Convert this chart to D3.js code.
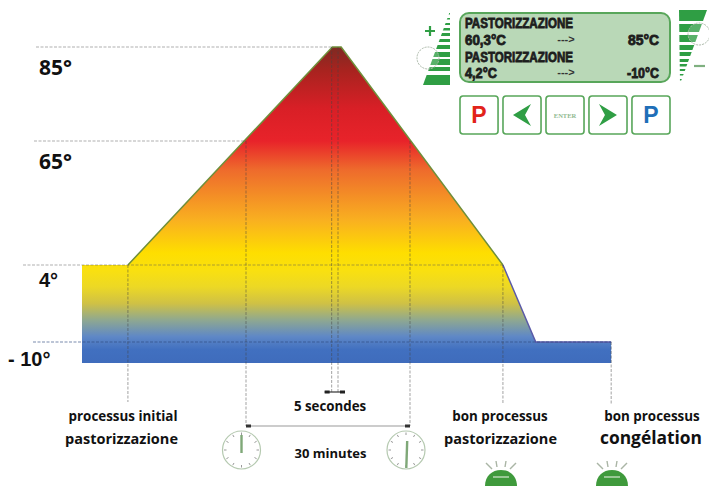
<!DOCTYPE html>
<html>
<head>
<meta charset="utf-8">
<script src="https://cdn.jsdelivr.net/npm/d3@7/dist/d3.min.js"></script>
<style>
  html, body { margin: 0; padding: 0; background: #fff; }
  svg { display: block; }
</style>
</head>
<body>
<div id="chart"></div>
<script>
// temperature profile, minutes counted from the start of the 30 minute hold
const profileTime = [-30, -21.6, 15.8, 17.4, 47, 53, 66.8];
const profileTemp = [4, 4, 85, 85, 4, -10, -10];
const bottomTemp = -15.5;

const tempTicks = [85, 65, 4, -10];
const tempLabels = ["85°", "65°", "4°", "- 10°"];

// dashed guides: temperature, time where they stop
const guideTemp = [85, 65, 4, -10];
const guideEnd = [15.8, 0, 47, 66.8];
const dropTime = [-21.6, 0, 15.67, 16.83, 30, 47, 66.8];
const dropTemp = [4, 65, 85, 85, 65, 4, -10];

const gradTemp = [85, 80, 72, 65, 51, 26, 10, 3, 0, -3, -6, -9, -12, -15.5];
const gradColor = ["#7e2a22", "#a8231f", "#d81f26", "#e8232a", "#ee6a2c", "#f9b020", "#fede00", "#f9e010", "#ecd825", "#cfc145", "#8fa890", "#5f88c6", "#4170c0", "#3f6cbc"];

const lcdLines = ["PASTORIZZAZIONE", "60,3°C", "PASTORIZZAZIONE", "4,2°C"];
const lcdWidths = [108, 41, 108, 32];
const lcdTargets = ["", "85°C", "", "-10°C"];
const lcdTargetWidths = [0, 31, 0, 32];
const buttons = ["P", "<", "ENTER", ">", "P"];
const buttonColors = ["#e2231a", "#2f9e44", "#8fb98f", "#2f9e44", "#1f6fb8"];

const width = 709, height = 486;

const svg = d3.select("#chart").append("svg")
  .attr("width", width)
  .attr("height", height);

// the temperature axis of the drawing is not to scale
const y = d3.scaleLinear()
  .domain([85, 65, 4, -10, -15.5])
  .range([47, 141, 265, 342, 363]);

const x = d3.scaleLinear()
  .domain([0, 30])
  .range([246, 410]);

const defs = svg.append("defs");
const grad = defs.append("linearGradient")
  .attr("id", "tempGrad")
  .attr("gradientUnits", "userSpaceOnUse")
  .attr("x1", 0).attr("x2", 0)
  .attr("y1", y(85)).attr("y2", y(bottomTemp));
gradTemp.forEach(function(t, i) {
  grad.append("stop")
    .attr("offset", (y(t) - y(85)) / (y(bottomTemp) - y(85)))
    .attr("stop-color", gradColor[i]);
});

const profile = profileTime.map(function(t, i) { return [t, profileTemp[i]]; });

const area = d3.area()
  .x(function(d) { return x(d[0]); })
  .y0(y(bottomTemp))
  .y1(function(d) { return y(d[1]); });

const line = d3.line()
  .x(function(d) { return x(d[0]); })
  .y(function(d) { return y(d[1]); });

svg.append("path")
  .datum(profile)
  .attr("d", area)
  .attr("fill", "url(#tempGrad)");

// outline, green going up then purple on the cooling part
svg.append("path")
  .datum(profile.slice(1, 5))
  .attr("d", line)
  .attr("fill", "none")
  .attr("stroke", "#6f8f3a")
  .attr("stroke-width", 1.5);

svg.append("path")
  .datum(profile.slice(4))
  .attr("d", line)
  .attr("fill", "none")
  .attr("stroke", "#5a5aa8")
  .attr("stroke-width", 1.5);

// guides
const guideStart = [36, 34, 23, 33];
guideTemp.forEach(function(t, i) {
  svg.append("line")
    .attr("x1", guideStart[i])
    .attr("x2", x(guideEnd[i]))
    .attr("y1", y(t))
    .attr("y2", y(t))
    .attr("stroke", t === -10 ? "#2c4a80" : "#555")
    .attr("stroke-opacity", t === -10 ? 0.8 : 0.6)
    .attr("stroke-width", 0.8)
    .attr("stroke-dasharray", "3 1.5");
});

const dropEnd = [402, 426, 392, 392, 426, 404, 404];
dropTime.forEach(function(t, i) {
  svg.append("line")
    .attr("x1", x(t))
    .attr("x2", x(t))
    .attr("y1", y(dropTemp[i]))
    .attr("y2", dropEnd[i])
    .attr("stroke", "#444")
    .attr("stroke-opacity", 0.55)
    .attr("stroke-width", 0.9)
    .attr("stroke-dasharray", "3 1.5");
});

// spans under the curve
svg.append("line")
  .attr("x1", x(0)).attr("x2", x(30))
  .attr("y1", 426).attr("y2", 426)
  .attr("stroke", "#999").attr("stroke-width", 1.2);
[0, 30].forEach(function(t, i) {
  svg.append("rect")
    .attr("x", x(t) - (i ? 5 : 0)).attr("y", 424.5)
    .attr("width", 5).attr("height", 3).attr("fill", "#333");
});
svg.append("line")
  .attr("x1", x(15.67) - 7).attr("x2", x(16.83) + 7)
  .attr("y1", 392).attr("y2", 392)
  .attr("stroke", "#333").attr("stroke-width", 1.2);
[-1, 1].forEach(function(s) {
  svg.append("rect")
    .attr("x", (s < 0 ? x(15.67) - 7 : x(16.83) + 2)).attr("y", 390.5)
    .attr("width", 5).attr("height", 3).attr("fill", "#222");
});

// temperature labels
const labelX = [39, 39, 39, 8];
const labelY = [75, 169, 287, 366];
const labelFont = ["Open Sans", "Open Sans", "Liberation Sans", "Liberation Sans"];
svg.selectAll(".temp")
  .data(tempTicks)
  .enter().append("text")
  .attr("class", "temp")
  .attr("x", function(d, i) { return labelX[i]; })
  .attr("y", function(d, i) { return labelY[i]; })
  .attr("font-family", function(d, i) { return labelFont[i]; })
  .attr("font-weight", "bold")
  .attr("font-size", function(d, i) { return i < 2 ? 21 : 20; })
  .attr("fill", "#111")
  .text(function(d, i) { return tempLabels[i]; });

// captions
const captions = [
  ["processus initial", 123, 421, 13.4],
  ["pastorizzazione", 121.5, 444, 14.5],
  ["5 secondes", 330, 411, 13.3],
  ["30 minutes", 330.5, 458, 13],
  ["bon processus", 500, 421, 13.4],
  ["pastorizzazione", 500.5, 444, 14.5],
  ["bon processus", 652, 421, 13.4],
  ["congélation", 651, 444, 17.4]
];
svg.selectAll(".caption")
  .data(captions)
  .enter().append("text")
  .attr("class", "caption")
  .attr("x", function(d) { return d[1]; })
  .attr("y", function(d) { return d[2]; })
  .attr("text-anchor", "middle")
  .attr("font-family", "Open Sans")
  .attr("font-weight", "bold")
  .attr("font-size", function(d) { return d[3]; })
  .attr("fill", "#111")
  .text(function(d) { return d[0]; });

// clocks
function clock(cx, cy, r, hand) {
  const g = svg.append("g").attr("transform", "translate(" + cx + "," + cy + ")");
  g.append("circle").attr("r", r).attr("fill", "#fff")
    .attr("stroke", "#b5c9b0").attr("stroke-width", 1.2);
  d3.range(12).forEach(function(i) {
    const a = i * Math.PI / 6;
    g.append("line")
      .attr("x1", Math.sin(a) * (r - 4)).attr("y1", -Math.cos(a) * (r - 4))
      .attr("x2", Math.sin(a) * (r - 1.5)).attr("y2", -Math.cos(a) * (r - 1.5))
      .attr("stroke", "#999").attr("stroke-width", 1);
  });
  g.append("path").attr("d", hand).attr("fill", "none")
    .attr("stroke", "#7fa878").attr("stroke-width", 2.4);
}
clock(241.5, 450, 19, "M0,3L0,-15");
clock(406, 450, 19, "M0.3,18L1.2,-9");

// lamps cut by the bottom of the picture
[501, 612].forEach(function(cx) {
  const g = svg.append("g").attr("transform", "translate(" + cx + ",0)");
  g.append("path")
    .attr("d", "M-16,486C-16,476 -9,470 0,470C9,470 16,476 16,486Z")
    .attr("fill", "#3f9a3c");
  g.append("path").attr("d", "M-8,477H8").attr("stroke", "#d5e8d0").attr("stroke-width", 1.2);
  [[-15, 463, -9, 469], [-5, 461, -4, 467], [5, 461, 4, 467], [15, 463, 9, 469]].forEach(function(r) {
    g.append("line")
      .attr("x1", r[0]).attr("y1", r[1]).attr("x2", r[2]).attr("y2", r[3])
      .attr("stroke", "#aab5a5").attr("stroke-width", 1.4);
  });
});

// lcd panel
svg.append("rect")
  .attr("x", 460).attr("y", 13)
  .attr("width", 210).attr("height", 69)
  .attr("rx", 9)
  .attr("fill", "#b9d8b7")
  .attr("stroke", "#58a65a")
  .attr("stroke-width", 2);

function lcdText(s, px, py, w) {
  svg.append("text")
    .attr("x", px).attr("y", py)
    .attr("font-family", "Liberation Sans")
    .attr("font-weight", "bold")
    .attr("font-size", 14)
    .attr("stroke", "#1d1d1d").attr("stroke-width", 0.8)
    .attr("fill", "#1d1d1d")
    .attr("textLength", w)
    .attr("lengthAdjust", "spacingAndGlyphs")
    .text(s);
}

const lcdY = [28, 45, 61.5, 78];
lcdLines.forEach(function(s, i) {
  lcdText(s, 465, lcdY[i], lcdWidths[i]);
  if (lcdTargets[i]) {
    lcdText(lcdTargets[i], 659 - lcdTargetWidths[i], lcdY[i], lcdTargetWidths[i]);
    svg.append("text")
      .attr("x", 566).attr("y", lcdY[i] - 2)
      .attr("text-anchor", "middle")
      .attr("font-family", "Liberation Sans")
      .attr("font-weight", "bold")
      .attr("font-size", 11)
      .attr("fill", "#333")
      .text("--->");
  }
});

// buttons
const bx = d3.scaleBand()
  .domain(d3.range(buttons.length))
  .range([460, 670])
  .paddingInner(0.115);

const btn = svg.selectAll(".btn")
  .data(buttons)
  .enter().append("g")
  .attr("class", "btn")
  .attr("transform", function(d, i) { return "translate(" + bx(i) + ",96)"; });

btn.append("rect")
  .attr("width", bx.bandwidth())
  .attr("height", 38)
  .attr("rx", 3)
  .attr("fill", "#fff")
  .attr("stroke", "#58a65a")
  .attr("stroke-width", 1.6);

btn.filter(function(d) { return d === "P"; })
  .append("text")
  .attr("x", bx.bandwidth() / 2).attr("y", 27)
  .attr("text-anchor", "middle")
  .attr("font-family", "Liberation Sans")
  .attr("font-weight", "bold")
  .attr("font-size", 23)
  .attr("fill", function(d, i) { return i === 0 ? buttonColors[0] : buttonColors[4]; })
  .text(function(d) { return d; });

btn.filter(function(d) { return d === "ENTER"; })
  .append("text")
  .attr("x", bx.bandwidth() / 2).attr("y", 21.5)
  .attr("text-anchor", "middle")
  .attr("font-family", "Liberation Serif")
  .attr("font-weight", "bold")
  .attr("font-size", 6.5)
  .attr("fill", buttonColors[2])
  .text(function(d) { return d; });

btn.filter(function(d) { return d === "<" || d === ">"; })
  .append("path")
  .attr("d", function(d) {
    return d === "<" ? "M28,8L10,19L28,30L22,19Z" : "M10,8L28,19L10,30L16,19Z";
  })
  .attr("fill", "#2f9e44");

// level wedges beside the panel
function wedge(id, pts, rows, circle) {
  defs.append("clipPath").attr("id", id)
    .append("polygon").attr("points", pts);
  const g = svg.append("g").attr("clip-path", "url(#" + id + ")");
  rows.forEach(function(r) {
    g.append("rect").attr("x", 410).attr("y", r[0])
      .attr("width", 299).attr("height", r[1]).attr("fill", "#2f9e44");
  });
  svg.append("circle")
    .attr("cx", circle[0]).attr("cy", circle[1]).attr("r", 11)
    .attr("fill", "#fff").attr("fill-opacity", 0.2)
    .attr("stroke", "#aab8a8").attr("stroke-width", 1)
    .attr("stroke-dasharray", "2 1");
}

wedge("wedgeL", "450,11 450,85 423,85",
  [[13, 1.5], [18, 1.5], [23, 2], [28, 2.5], [33, 3], [39, 3], [45, 4], [52, 5], [59, 6], [67, 4], [75, 10]],
  [428, 58]);
wedge("wedgeR", "679,10 707,10 680,84",
  [[10, 11], [24, 8], [35, 7], [45, 5], [52, 4], [59, 3], [64, 2.5], [69, 2], [74, 1.5], [79, 1.5]],
  [699, 34]);

svg.append("path").attr("d", "M425,31H435M430,26V36")
  .attr("stroke", "#2f9e44").attr("stroke-width", 2.2);
svg.append("path").attr("d", "M694,66H705")
  .attr("stroke", "#7fb080").attr("stroke-width", 2.2);
</script>
</body>
</html>
